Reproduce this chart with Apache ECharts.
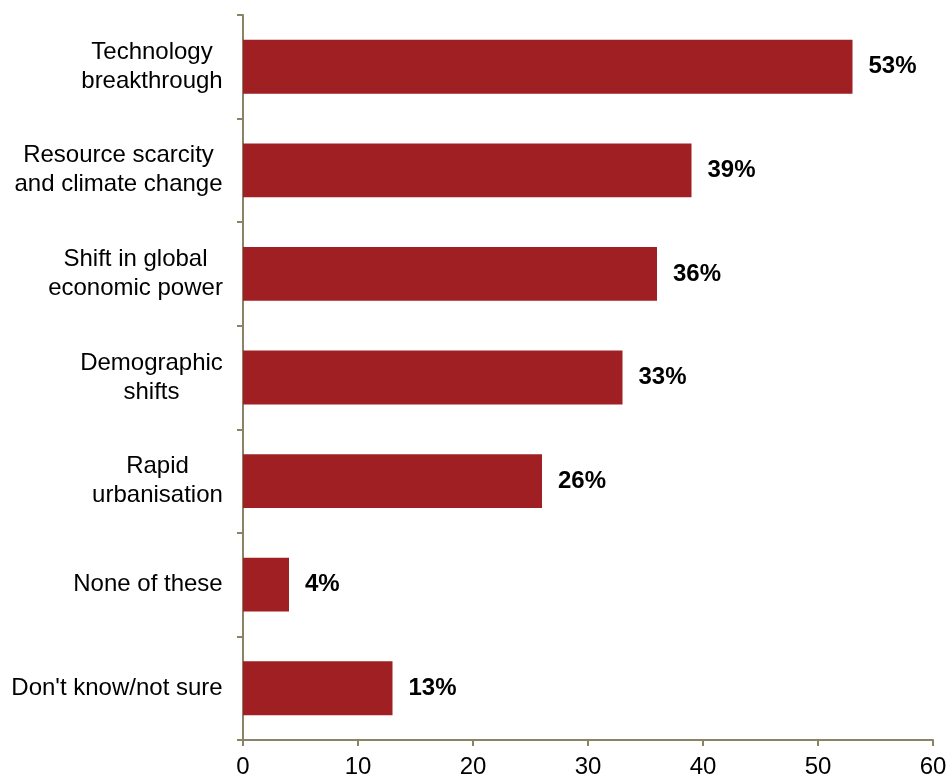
<!DOCTYPE html>
<html><head><meta charset="utf-8">
<script src="https://cdn.jsdelivr.net/npm/echarts@6/dist/echarts.min.js"></script>
<style>html,body{margin:0;padding:0;background:#fff}#c{width:948px;height:777px}</style>
</head><body><div id="c"></div>
<script>
const categories = ["Technology\nbreakthrough","Resource scarcity\nand climate change","Shift in global\neconomic power","Demographic\nshifts","Rapid\nurbanisation","None of these","Don't know/not sure"];
const values = [53,39,36,33,26,4,13];
const xTicks = {min:0,max:60,interval:10};
const axisColor = '#8c8266';
const FONT = 'Liberation Sans, Arial, sans-serif';
const FS = 24;

// measure line widths so multi-line labels are centred within their block
const ctx = document.createElement('canvas').getContext('2d');
ctx.font = FS + 'px ' + FONT;
const rich = {};
const labelMap = {};
categories.forEach((c, i) => {
  const lines = c.split('\n');
  const w = Math.ceil(Math.max(...lines.map(l => ctx.measureText(l).width)));
  rich['w' + i] = {width: w, align: 'center', fontSize: FS, fontFamily: FONT, color: '#000', lineHeight: 29};
  labelMap[c] = lines.map(l => '{w' + i + '|' + l + '}').join('\n');
});

const chart = echarts.init(document.getElementById('c'));
chart.setOption({
  animation:false,
  grid:{left:243,right:15,top:15,bottom:37,containLabel:false,outerBoundsMode:'none'},
  xAxis:{type:'value',min:xTicks.min,max:xTicks.max,interval:xTicks.interval,
    axisLine:{show:true,lineStyle:{color:axisColor,width:2}},
    axisTick:{show:true,length:6,lineStyle:{color:axisColor,width:2}},
    splitLine:{show:false},
    axisLabel:{color:'#000',fontSize:FS,fontFamily:FONT,margin:15}},
  yAxis:{type:'category',inverse:true,data:categories,
    axisLine:{show:true,lineStyle:{color:axisColor,width:2}},
    axisTick:{show:true,length:6,lineStyle:{color:axisColor,width:2}},
    axisLabel:{color:'#000',fontSize:FS,fontFamily:FONT,margin:20,lineHeight:29,align:'right',
      formatter: v => labelMap[v], rich: rich}},
  series:[{type:'bar',data:values,barWidth:'52%',
    itemStyle:{color:'#a01f22'},
    label:{show:true,position:'right',distance:16,formatter:'{c}%',color:'#000',fontWeight:'bold',fontSize:FS,fontFamily:FONT}}]
});
</script></body></html>
